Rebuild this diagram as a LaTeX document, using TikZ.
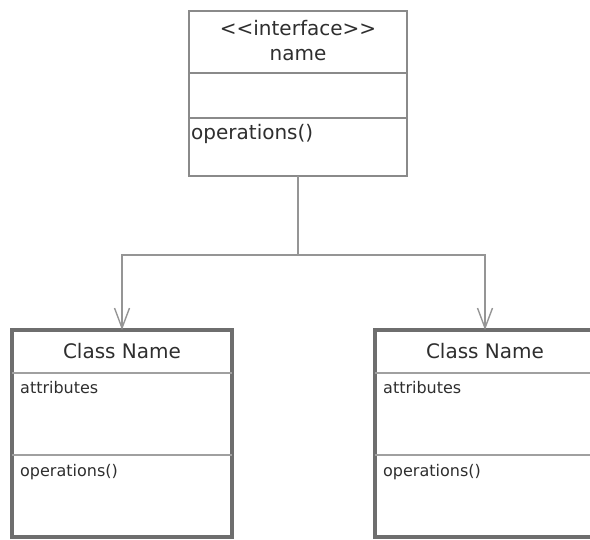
\documentclass[tikz,border=0pt]{standalone}
\usepackage{fontspec}
\setmainfont{DejaVu Sans}
\usetikzlibrary{arrows.meta}
\definecolor{boxline}{HTML}{8A8A8A}
\definecolor{classline}{HTML}{6E6E6E}
\definecolor{divline}{HTML}{A0A0A0}
\definecolor{wireline}{HTML}{959595}
\definecolor{txt}{HTML}{2E2E2E}
\tikzset{
  ifacebox/.style={draw=boxline, line width=1.4pt, minimum width=218pt, minimum height=165pt, inner sep=0pt, outer sep=0pt},
  classbox/.style={draw=classline, line width=3.2pt, minimum width=220pt, minimum height=207pt, inner sep=0pt, outer sep=0pt},
  ifacediv/.style={draw=boxline, line width=1.4pt},
  classdiv/.style={draw=divline, line width=1.8pt},
  wire/.style={draw=wireline, line width=1.4pt},
  realize/.style={wire, -{Straight Barb[length=20pt, width=15pt, line width=1.4pt]}},
  bigtext/.style={font=\fontsize{20}{24}\selectfont, text=txt, anchor=base, inner sep=0pt},
  smalltext/.style={font=\fontsize{16}{19}\selectfont, text=txt, anchor=base west, inner sep=0pt},
}
\begin{document}
\begin{tikzpicture}[x=1pt, y=-1pt]
\useasboundingbox (0,0) rectangle (590,540);
\clip (0,0) rectangle (590,540);

% interface box
\node[ifacebox] (iface) at (298,93.5) {};
\draw[ifacediv] (iface.west |- 0,73) -- (iface.east |- 0,73);
\draw[ifacediv] (iface.west |- 0,118) -- (iface.east |- 0,118);
\node[bigtext] (stereo) at (298,36) {<{}<interface>{}>};
\node[bigtext] (iname) at (298,61) {name};
\node[bigtext, anchor=base west] (iops) at (191,140) {operations()};

% left class
\node[classbox] (c1) at (122,433.5) {};
\draw[classdiv] (c1.west |- 0,373) -- (c1.east |- 0,373);
\draw[classdiv] (c1.west |- 0,455) -- (c1.east |- 0,455);
\node[bigtext] (c1name) at (122,359) {Class Name};
\node[smalltext] (c1attr) at (20,394) {attributes};
\node[smalltext] (c1ops) at (20,477) {operations()};

% right class
\node[classbox] (c2) at (485,433.5) {};
\draw[classdiv] (c2.west |- 0,373) -- (c2.east |- 0,373);
\draw[classdiv] (c2.west |- 0,455) -- (c2.east |- 0,455);
\node[bigtext] (c2name) at (485,359) {Class Name};
\node[smalltext] (c2attr) at (383,394) {attributes};
\node[smalltext] (c2ops) at (383,477) {operations()};

% connectors
\coordinate (join) at (298,255);
\draw[wire] (iface.south) -- (join);
\draw[realize] (join) -| (c1.north);
\draw[realize] (join) -| (c2.north);
\end{tikzpicture}
\end{document}
